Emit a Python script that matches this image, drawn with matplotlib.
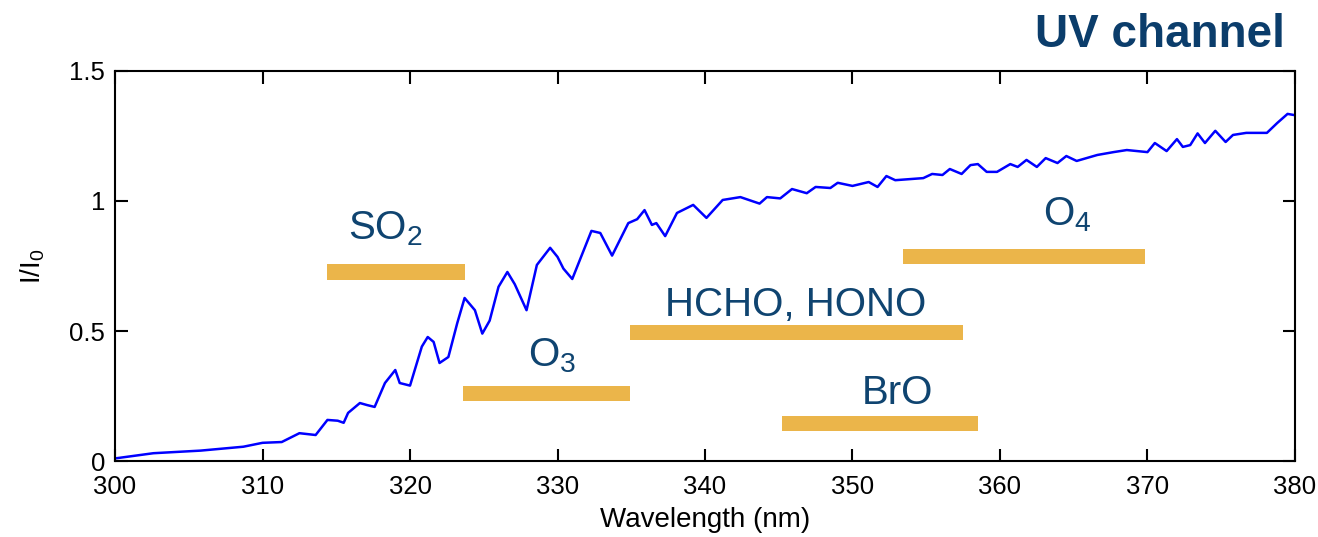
import matplotlib
matplotlib.use("Agg")
import matplotlib.pyplot as plt

plt.rcParams['font.family'] = ['Liberation Sans', 'DejaVu Sans']
plt.rcParams['mathtext.default'] = 'regular'

# Spectrum (wavelength nm, I/I0)
wavelength = [300.0, 302.6, 305.8, 308.7, 310.0, 311.3, 312.5, 313.6, 314.4, 315.1,
              315.5, 315.8, 316.6, 317.1, 317.6, 318.3, 319.0, 319.3, 320.0, 320.8,
              321.2, 321.6, 322.0, 322.6, 323.2, 323.7, 324.4, 324.9, 325.4, 326.0,
              326.6, 327.1, 327.9, 328.6, 329.5, 330.0, 330.4, 331.0, 332.3, 332.9,
              333.7, 334.8, 335.4, 335.9, 336.4, 336.7, 337.3, 338.1, 339.2, 340.1,
              341.2, 342.4, 343.7, 344.2, 345.1, 345.9, 346.9, 347.5, 348.5, 349.0,
              350.0, 351.1, 351.7, 352.3, 352.9, 354.8, 355.4, 356.1, 356.6, 357.4,
              358.0, 358.5, 359.1, 359.8, 360.7, 361.2, 361.8, 362.5, 363.1, 363.9,
              364.5, 365.2, 366.6, 367.7, 368.6, 370.0, 370.5, 371.3, 372.0, 372.4,
              372.9, 373.4, 373.9, 374.6, 375.3, 375.8, 376.7, 378.1, 378.8, 379.5,
              380.0]
intensity = [0.010, 0.030, 0.040, 0.055, 0.070, 0.073, 0.107, 0.100, 0.158, 0.155,
             0.147, 0.185, 0.223, 0.215, 0.208, 0.300, 0.350, 0.300, 0.290, 0.440,
             0.477, 0.458, 0.377, 0.400, 0.530, 0.627, 0.580, 0.490, 0.540, 0.670,
             0.727, 0.680, 0.580, 0.754, 0.820, 0.785, 0.740, 0.700, 0.885, 0.877,
             0.790, 0.915, 0.930, 0.965, 0.908, 0.915, 0.865, 0.954, 0.985, 0.935,
             1.004, 1.015, 0.990, 1.015, 1.010, 1.046, 1.030, 1.054, 1.050, 1.070,
             1.058, 1.073, 1.054, 1.096, 1.080, 1.088, 1.104, 1.100, 1.123, 1.104,
             1.138, 1.142, 1.112, 1.112, 1.142, 1.131, 1.158, 1.131, 1.165, 1.146,
             1.173, 1.154, 1.177, 1.188, 1.196, 1.188, 1.223, 1.192, 1.238, 1.208,
             1.215, 1.260, 1.223, 1.270, 1.227, 1.254, 1.262, 1.262, 1.300, 1.335,
             1.330]

# Fitting windows (bars)
species = ['SO$_2$', 'O$_3$', 'HCHO, HONO', 'BrO', 'O$_4$']
window_start = [314.4, 323.6, 334.9, 345.2, 353.4]
window_end = [323.7, 334.9, 357.5, 358.5, 369.8]
window_level = [0.727, 0.260, 0.496, 0.146, 0.785]
label_x = [315.8, 328.0, 337.3, 350.6, 362.9]
label_y = [0.854, 0.362, 0.558, 0.219, 0.908]

xticks = [300, 310, 320, 330, 340, 350, 360, 370, 380]
yticks = [0, 0.5, 1, 1.5]
ytick_labels = ['0', '0.5', '1', '1.5']

fig = plt.figure(figsize=(13.18, 5.37), dpi=100)
ax = fig.add_axes([0.0873, 0.1415, 0.8952, 0.7263])

bar_color = '#EBB54A'
text_color = '#0F4470'
for s, x0, x1, lvl, lx, ly in zip(species, window_start, window_end, window_level, label_x, label_y):
    ax.barh(lvl, x1 - x0, left=x0, height=0.058, color=bar_color, zorder=1)
    ax.text(lx, ly, s, fontsize=29, color=text_color, ha='left', va='baseline', zorder=3)

ax.plot(wavelength, intensity, color='#0000FF', linewidth=1.8, zorder=2)

ax.set_xlim(300, 380)
ax.set_ylim(0, 1.5)
ax.set_xticks(xticks)
ax.set_yticks(yticks)
ax.set_yticklabels(ytick_labels)
ax.tick_params(direction='in', length=9, width=1.5, labelsize=18.5,
               top=True, right=True)
ax.tick_params(axis='x', pad=10)
ax.tick_params(axis='y', pad=7)
for sp in ax.spines.values():
    sp.set_linewidth(1.5)

ax.set_xlabel('Wavelength (nm)', fontsize=20, labelpad=6)
ax.set_ylabel('I/I$_0$', fontsize=20, labelpad=16)

fig.text(0.975, 0.935, 'UV channel', fontsize=33, fontweight='bold',
         color='#0B3D6B', ha='right', va='center')

fig.savefig('out.png', dpi=100)
